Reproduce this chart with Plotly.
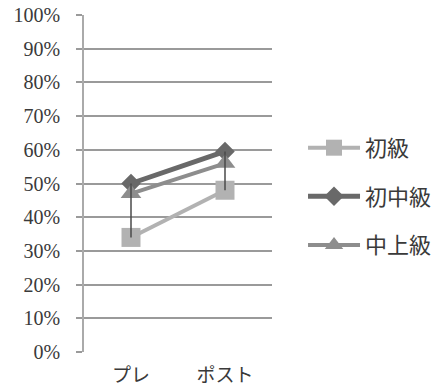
import plotly.graph_objects as go

categories = ["プレ", "ポスト"]
series_names = ["初級", "初中級", "中上級"]
beginner = [0.34, 0.48]
lower_intermediate = [0.50, 0.595]
upper_intermediate = [0.47, 0.56]
y_ticks = [i / 10 for i in range(11)]
y_tick_labels = [f"{i * 10}%" for i in range(11)]

series_values = [beginner, lower_intermediate, upper_intermediate]
colors = ["#b2b2b2", "#696969", "#8d8d8d"]
symbols = ["square", "diamond", "triangle-up"]
marker_sizes = [19, 15, 18]
line_widths = [4, 5, 4]

num_font = "Liberation Serif, DejaVu Serif, serif"
cjk_font = "Noto Sans CJK JP, sans-serif"
text_color = "#3a3a3a"

fig = go.Figure()
for name, vals, col, sym, ms, lw in zip(series_names, series_values, colors,
                                        symbols, marker_sizes, line_widths):
    fig.add_trace(go.Scatter(
        x=categories, y=vals, name=name, mode="lines+markers",
        line=dict(color=col, width=lw),
        marker=dict(symbol=sym, size=ms, color=col),
        legendgroup=name,
    ))

# high-low lines joining the extremes of each category
hl_x, hl_y = [], []
for i, c in enumerate(categories):
    col_vals = [s[i] for s in series_values]
    hl_x += [c, c, None]
    hl_y += [max(col_vals), min(col_vals), None]
fig.add_trace(go.Scatter(
    x=hl_x, y=hl_y, mode="lines", showlegend=False, hoverinfo="skip",
    line=dict(color="#4a4a4a", width=1.5),
))

fig.update_layout(
    width=446, height=389,
    margin=dict(l=84, r=174, t=15, b=37, autoexpand=False),
    paper_bgcolor="white", plot_bgcolor="white",
    showlegend=True,
    legend=dict(
        x=1.165, y=0.668, xanchor="left", yanchor="top",
        font=dict(family=cjk_font, size=22, color=text_color),
        tracegroupgap=17,
        itemwidth=52,
        bgcolor="rgba(0,0,0,0)",
    ),
)
fig.update_xaxes(
    type="category", range=[-0.5, 1.5], automargin=False,
    showline=False, showgrid=False, ticks="",
    ticklabelstandoff=10,
    tickfont=dict(family=cjk_font, size=19, color=text_color),
)
fig.update_yaxes(
    range=[0, 1], tickvals=y_ticks, ticktext=y_tick_labels, automargin=False,
    showgrid=True, gridcolor="#9a9a9a", gridwidth=1.5,
    showline=True, linecolor="#aaaaaa", linewidth=1.5,
    ticks="outside", ticklen=6, tickcolor="#9a9a9a", tickwidth=1.5,
    ticklabelstandoff=12,
    tickfont=dict(family=num_font, size=20, color=text_color),
    zeroline=False,
)

fig.write_html("out.html")
